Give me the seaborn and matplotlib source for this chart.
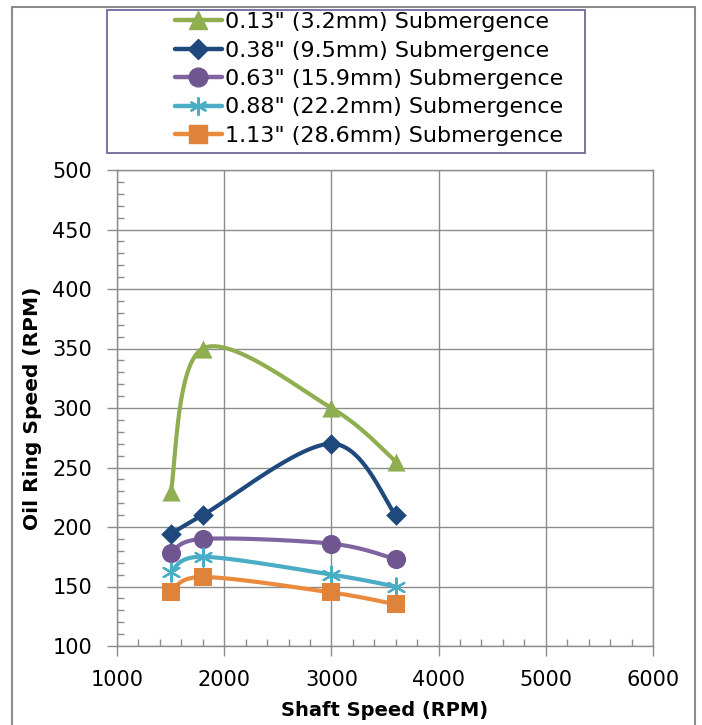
import numpy as np
import pandas as pd
import matplotlib
matplotlib.use("Agg")
import matplotlib.pyplot as plt
import seaborn as sns
from matplotlib.lines import Line2D
from matplotlib.patches import Rectangle
from matplotlib.ticker import MultipleLocator

shaft_speed = [1500, 1800, 3000, 3600]
series_labels = ['0.13" (3.2mm) Submergence', '0.38" (9.5mm) Submergence',
                 '0.63" (15.9mm) Submergence', '0.88" (22.2mm) Submergence',
                 '1.13" (28.6mm) Submergence']
sub_013 = [229, 350, 300, 255]
sub_038 = [194, 210, 270, 210]
sub_063 = [178, 190, 186, 173]
sub_088 = [162, 175, 160, 150]
sub_113 = [145, 158, 145, 135]
x_ticks = [1000, 2000, 3000, 4000, 5000, 6000]
y_ticks = [100, 150, 200, 250, 300, 350, 400, 450, 500]

series_values = [sub_013, sub_038, sub_063, sub_088, sub_113]
line_colors = ["#8FAE50", "#1F497D", "#8064A2", "#4BACC6", "#EB8A3D"]
marker_colors = ["#8FAE50", "#1F497D", "#6F5690", "#4BACC6", "#E0833A"]
markers = ["^", "D", "o", "*", "s"]

sns.set_style("white")
plt.rcParams['font.family'] = ['DejaVu Sans']
plt.rcParams['text.color'] = 'black'
plt.rcParams['axes.labelcolor'] = 'black'
plt.rcParams['xtick.labelcolor'] = 'black'
plt.rcParams['ytick.labelcolor'] = 'black'


def excel_smooth(xs, ys, n=60):
    """Excel-style Bezier smoothing used only for rendering the smoothed line."""
    pts = np.column_stack([xs, ys]).astype(float)
    out = []
    m = len(pts)
    for i in range(m - 1):
        p0 = pts[i - 1] if i > 0 else pts[i]
        p1 = pts[i]
        p2 = pts[i + 1]
        p3 = pts[i + 2] if i + 2 < m else pts[i + 1]
        c1 = p1 + (p2 - p0) / 6.0
        c2 = p2 - (p3 - p1) / 6.0
        t = np.linspace(0, 1, n)[:, None]
        seg = ((1 - t) ** 3) * p1 + 3 * ((1 - t) ** 2) * t * c1 + 3 * (1 - t) * t ** 2 * c2 + t ** 3 * p2
        if i > 0:
            seg = seg[1:]
        out.append(seg)
    out = np.vstack(out)
    return out[:, 0], out[:, 1]


fig = plt.figure(figsize=(7.02, 7.25), dpi=100)
ax = fig.add_axes([117 / 702, 1 - 646 / 725, 536 / 702, 476 / 725])

handles = []
for lab, vals, lc, mc, mk in zip(series_labels, series_values, line_colors, marker_colors, markers):
    sx, sy = excel_smooth(shaft_speed, vals)
    df_line = pd.DataFrame({"x": sx, "y": sy})
    sns.lineplot(data=df_line, x="x", y="y", ax=ax, color=lc, linewidth=3.0,
                 sort=False, estimator=None, zorder=3)
    df_pts = pd.DataFrame({"x": shaft_speed, "y": vals})
    if mk == "*":
        ax.scatter(df_pts["x"], df_pts["y"], marker=(6, 2, 0), s=170, color=mc,
                   linewidths=1.6, zorder=4)
        h = Line2D([], [], color=lc, linewidth=3.2, marker=(6, 2, 0), markersize=13,
                   markeredgecolor=mc, markeredgewidth=1.6)
    else:
        size = {"^": 170, "D": 110, "o": 190, "s": 170}[mk]
        sns.scatterplot(data=df_pts, x="x", y="y", ax=ax, marker=mk, s=size,
                        color=mc, edgecolor=mc, linewidth=0, zorder=4)
        ms = {"^": 13, "D": 10.5, "o": 13.5, "s": 13}[mk]
        h = Line2D([], [], color=lc, linewidth=3.2, marker=mk, markersize=ms,
                   markerfacecolor=mc, markeredgecolor=mc)
    handles.append(h)

ax.set_xlim(1000, 6000)
ax.set_ylim(100, 500)
ax.set_xticks(x_ticks)
ax.set_yticks(y_ticks)
ax.xaxis.set_minor_locator(MultipleLocator(200))
ax.yaxis.set_minor_locator(MultipleLocator(10))
ax.grid(True, which="major", color="#8C8C8C", linewidth=1.0)
ax.set_axisbelow(True)
for s in ax.spines.values():
    s.set_color("#8C8C8C")
    s.set_linewidth(1.0)
ax.tick_params(axis="both", which="major", direction="out", length=7, width=1,
               color="#8C8C8C", labelsize=15, labelcolor="black")
ax.tick_params(axis="x", which="major", pad=10)
ax.tick_params(axis="y", which="major", pad=11)
ax.tick_params(axis="both", which="minor", direction="in", length=5, width=1,
               color="#8C8C8C")
ax.tick_params(left=True, bottom=True, which="both")
ax.set_xlabel("Shaft Speed (RPM)", fontsize=14, fontweight="bold", color="black")
ax.set_ylabel("Oil Ring Speed (RPM)", fontsize=14.5, fontweight="bold", color="black")
ax.xaxis.label.set_va("center")
ax.yaxis.label.set_va("center")
ax.xaxis.set_label_coords(0.5, (646 - 711) / 476)
ax.yaxis.set_label_coords((33 - 117) / 536, 0.5)

# legend frame and legend
fig.patches.append(Rectangle((107 / 702, 1 - 153 / 725), (585 - 107) / 702, (153 - 10) / 725,
                             transform=fig.transFigure, fill=True, facecolor="white",
                             edgecolor="#6E6A9A", linewidth=1.3, zorder=1))
leg = fig.legend(handles=handles, labels=series_labels, loc="center",
                 bbox_to_anchor=(369 / 702, 1 - 79 / 725),
                 fontsize=16, frameon=False, handlelength=2.1,
                 handletextpad=0.15, labelspacing=0.38, borderpad=0.0)
for t in leg.get_texts():
    t.set_color("black")
leg.set_zorder(2)

fig.patches.append(Rectangle((12 / 702, -0.02), (695 - 12) / 702, 1.0 - 7 / 725 + 0.02,
                             transform=fig.transFigure, fill=False,
                             edgecolor="#8C8C8C", linewidth=1.5, zorder=0))

fig.savefig("out.png", dpi=100)
